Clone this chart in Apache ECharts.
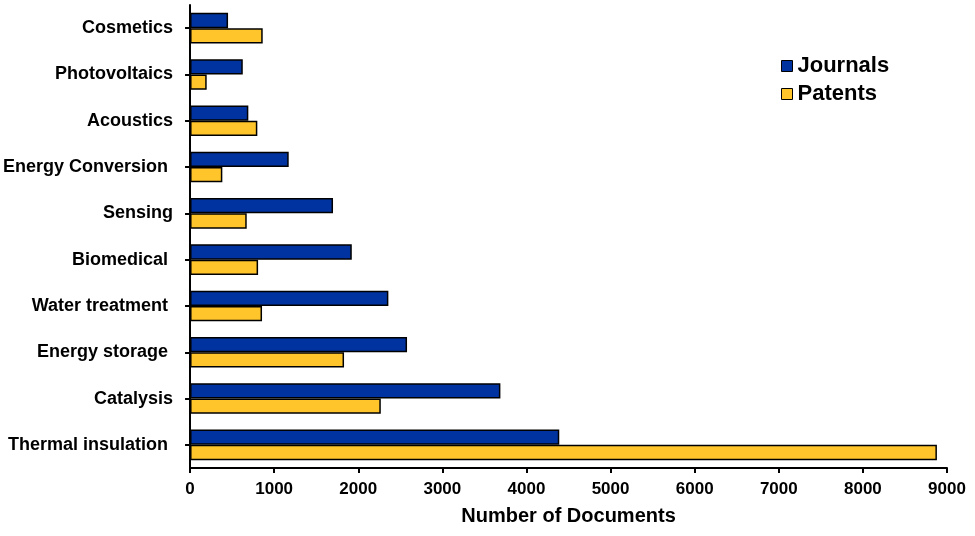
<!DOCTYPE html>
<html><head><meta charset="utf-8">
<script src="https://cdn.jsdelivr.net/npm/echarts@6/dist/echarts.min.js"></script>
<style>html,body{margin:0;padding:0;background:#fff}#c{width:975px;height:536px}</style>
</head><body><div id="c"></div>
<script>
const categories = ["Cosmetics","Photovoltaics","Acoustics","Energy Conversion ","Sensing","Biomedical ","Water treatment ","Energy storage ","Catalysis","Thermal insulation "];
const journals = [452, 627, 693, 1173, 1700, 1923, 2358, 2580, 3690, 4390];
const patents  = [864, 198, 800, 384, 674, 809, 856, 1831, 2268, 8880];
const xTicks = [0,1000,2000,3000,4000,5000,6000,7000,8000,9000];

const FONT = '"Liberation Sans", Arial, sans-serif';
const chart = echarts.init(document.getElementById('c'), null, {renderer:'canvas'});
chart.setOption({
  animation:false,
  backgroundColor:'#ffffff',
  grid:{left:190, right:28, top:5, bottom:68, containLabel:false},
  legend:{
    orient:'vertical', left:776, top:50, itemWidth:11, itemHeight:11, itemGap:6,
    icon:'rect',
    textStyle:{fontFamily:FONT, fontWeight:'bold', fontSize:22, color:'#000'},
    data:[{name:'Journals', itemStyle:{borderColor:'#000',borderWidth:1}},{name:'Patents', itemStyle:{borderColor:'#000',borderWidth:1}}]
  },
  xAxis:{
    type:'value', min:xTicks[0], max:xTicks[xTicks.length-1], interval:1000,
    name:'Number of Documents', nameLocation:'middle', nameGap:38,
    nameTextStyle:{fontFamily:FONT, fontWeight:'bold', fontSize:20, color:'#000'},
    axisLine:{show:true, lineStyle:{color:'#000', width:2}},
    axisTick:{show:true, length:5, lineStyle:{color:'#000', width:2}},
    axisLabel:{fontFamily:FONT, fontWeight:'bold', fontSize:17, color:'#000', margin:13,
      formatter:function(v){return String(v);}},
    splitLine:{show:false}
  },
  yAxis:{
    type:'category', data:categories, inverse:true,
    axisLine:{show:true, lineStyle:{color:'#000', width:2}},
    axisTick:{show:true, alignWithLabel:true, length:5, lineStyle:{color:'#000', width:2}},
    axisLabel:{fontFamily:FONT, fontWeight:'bold', fontSize:18, color:'#000', margin:17}
  },
  series:[
    {name:'Journals', type:'bar', data:journals, barGap:'0%', barCategoryGap:'34%',
     itemStyle:{color:'#0033a0', borderColor:'#000', borderWidth:1.5}},
    {name:'Patents', type:'bar', data:patents, barGap:'0%', barCategoryGap:'34%',
     itemStyle:{color:'#ffc52b', borderColor:'#000', borderWidth:1.5}}
  ]
});
</script></body></html>
